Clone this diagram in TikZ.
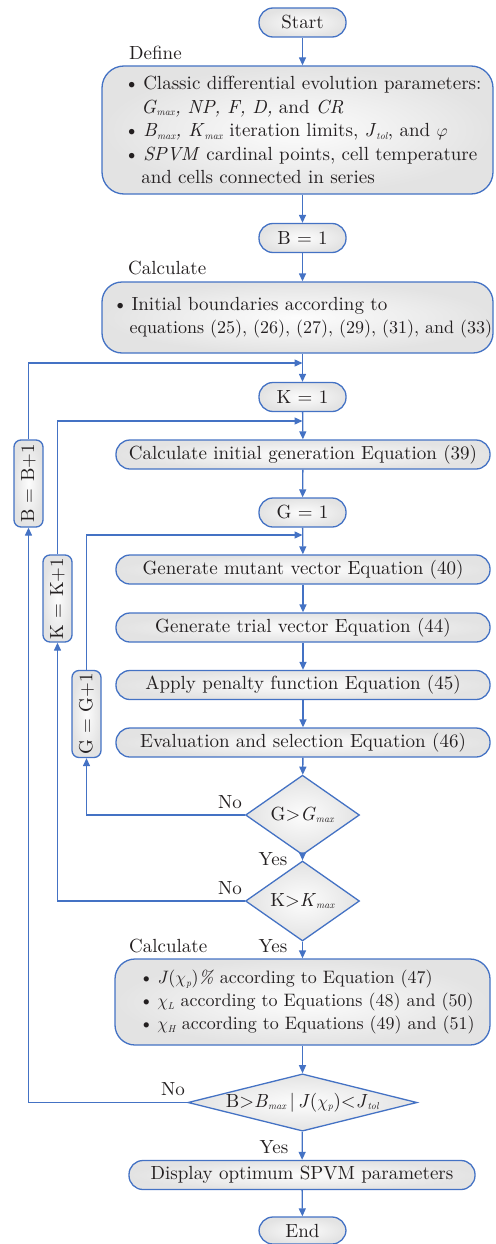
\documentclass[tikz,border=0pt]{standalone}
\usepackage{fontspec}
\setmainfont{lmroman10}[Extension=.otf, UprightFont=*-regular, ItalicFont=*-italic, BoldFont=*-bold, BoldItalicFont=*-bolditalic]
\usetikzlibrary{arrows.meta,shapes.geometric,calc}
\definecolor{fcblue}{RGB}{68,114,196}
\definecolor{fctext}{RGB}{35,31,32}
\newcommand{\fsz}{\fontsize{19}{23.5}\selectfont}
\newcommand{\sbx}[1]{\textsubscript{\fontsize{10}{10}\selectfont\itshape #1}}
\newcommand{\bul}[1][0pt]{\hspace*{#1}\textbullet\hspace{4pt}}
\newcommand{\hind}[1][0pt]{\hspace*{#1}\phantom{\textbullet\hspace{4pt}}}
\tikzset{
  pill/.style={draw=fcblue, line width=1.3pt, rounded corners=14pt, inner color=black!1, outer color=black!11,
    minimum height=29pt, inner sep=0pt, font=\fsz, text=fctext},
  bigbox/.style={draw=fcblue, line width=1.3pt, inner color=black!1, outer color=black!11,
    inner sep=0pt, font=\fsz, align=left, text=fctext},
  sidebox/.style={draw=fcblue, line width=1.3pt, rounded corners=7pt, inner color=black!1, outer color=black!11,
    minimum width=87pt, minimum height=29pt, inner sep=0pt, font=\fsz, rotate=90, text=fctext},
  dia/.style={draw=fcblue, line width=1.3pt, diamond, inner color=black!1, outer color=black!11,
    inner sep=0pt, font=\fsz, text=fctext},
  lbl/.style={font=\fsz, inner sep=0pt, text=fctext},
  conn/.style={draw=fcblue, line width=1.3pt, -{Triangle[length=8pt,width=7pt]}},
}
\begin{document}
\begin{tikzpicture}[x=1pt,y=-1pt]
\useasboundingbox (0,0) rectangle (495,1244);
% main column
\node[pill, minimum width=87pt] (start) at (302.5,22.5) {Start};
\node[lbl, anchor=west] (defl) at (129,53) {Define};
\node[bigbox, minimum width=391pt, minimum height=128pt, rounded corners=22pt] (def) at (297.5,130) {%
\bul[11pt]Classic differential evolution parameters:\\
\hind[9pt]\textit{G}\sbx{max}\textit{, NP, F, D,} and \textit{CR}\\
\bul[11pt]\textit{B}\sbx{max}\textit{, K}\sbx{max} iteration limits, \textit{J}\sbx{tol}, and $\varphi$\\
\bul[11pt]\textit{SPVM} cardinal points, cell temperature\\
\hind[9pt]and cells connected in series};
\node[pill, minimum width=87pt] (b1) at (302.5,238) {B = 1};
\node[lbl, anchor=west] (calcl) at (128,268) {Calculate};
\node[bigbox, minimum width=391pt, minimum height=71pt, rounded corners=20pt] (calc) at (297.5,317.5) {%
\bul[10pt]Initial boundaries according to\\
\hind[8pt]{\fontsize{18}{23.5}\selectfont equations (25), (26), (27), (29), (31), and (33)}};
\coordinate (jb) at (302.5,363);
\node[pill, minimum width=87pt] (k1) at (302.5,397) {K = 1};
\coordinate (jk) at (302.5,421);
\node[pill, minimum width=374pt] (init) at (303,454.5) {Calculate initial generation Equation (39)};
\node[pill, minimum width=87pt] (g1) at (302.5,512.5) {G = 1};
\coordinate (jg) at (302.5,535);
\node[pill, minimum width=374pt] (mut) at (303,569.5) {Generate mutant vector Equation (40)};
\node[pill, minimum width=374pt] (trial) at (303,627.5) {Generate trial vector Equation (44)};
\node[pill, minimum width=374pt] (pen) at (303,685) {Apply penalty function Equation (45)};
\node[pill, minimum width=374pt] (eval) at (303,742.5) {Evaluation and selection Equation (46)};
\node[dia, minimum width=114pt, minimum height=56pt] (dg) at (302.5,815) {G>\textit{G}\sbx{max}};
\node[dia, minimum width=114pt, minimum height=56pt] (dk) at (302.5,901) {K>\textit{K}\sbx{max}};
\node[lbl, anchor=west] (calc3l) at (129,946) {Calculate};
\node[bigbox, minimum width=375pt, minimum height=86pt, rounded corners=20pt,
  font=\fontsize{18}{23}\selectfont] (calc3) at (302.5,1002) {%
\bul[9pt]\textit{J}($\chi$\sbx{p})\textit{\%} according to Equation (47)\\
\bul[9pt]$\chi$\sbx{L} according to Equations (48) and (50)\\
\bul[9pt]$\chi$\sbx{H} according to Equations (49) and (51)};
\node[dia, minimum width=229pt, minimum height=57pt, aspect=4] (db) at (302.5,1102.5) {B>\textit{B}\sbx{max}\,|\,\textit{J}($\chi$\sbx{p})<\textit{J}\sbx{tol}};
\node[pill, minimum width=346pt] (disp) at (302,1175) {Display optimum SPVM parameters};
\node[pill, minimum width=87pt, minimum height=27pt] (end) at (302.5,1230.5) {End};
% side boxes
\node[sidebox] (bb) at (28.5,483.5) {B = B+1};
\node[sidebox] (kk) at (57.5,598.5) {K = K+1};
\node[sidebox] (gg) at (86.5,714) {G = G+1};
% labels
\node[lbl] (no1) at (230,802) {No};
\node[lbl] (no2) at (230,888) {No};
\node[lbl] (no3) at (173,1089) {No};
\node[lbl] (yes1) at (273,859) {Yes};
\node[lbl] (yes2) at (273,946) {Yes};
\node[lbl] (yes3) at (274,1147) {Yes};
% spine
\draw[conn] (start) -- (start |- def.north);
\draw[conn] (def.south -| b1) -- (b1);
\draw[conn] (b1) -- (b1 |- calc.north);
\draw[conn] (calc.south -| k1) -- (k1);
\draw[conn] (k1) -- (init);
\draw[conn] (init) -- (g1);
\draw[conn] (g1) -- (mut);
\draw[conn] (mut) -- (trial);
\draw[conn] (trial) -- (pen);
\draw[conn] (pen) -- (eval);
\draw[conn] (eval) -- (dg);
\draw[conn] (dg) -- (dk);
\draw[conn] (dk) -- (dk |- calc3.north);
\draw[conn] (calc3) -- (db);
\draw[conn] (db) -- (disp);
\draw[conn] (disp) -- (end);
% loops
\draw[conn] (dg.west) -| (gg.west);
\draw[conn] (gg.east) |- (jg);
\draw[conn] (dk.west) -| (kk.west);
\draw[conn] (kk.east) |- (jk);
\draw[conn] (db.west) -| (bb.west);
\draw[conn] (bb.east) |- (jb);
\end{tikzpicture}
\end{document}
